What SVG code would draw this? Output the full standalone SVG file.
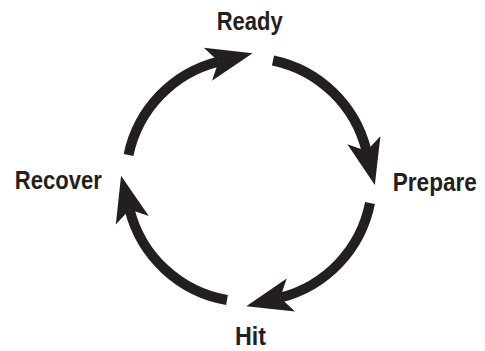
<svg xmlns="http://www.w3.org/2000/svg" width="485" height="351" viewBox="0 0 485 351">
<style>
.lbl{font-family:"Liberation Sans",Arial,sans-serif;font-weight:bold;font-size:26px;fill:#231f20;text-anchor:middle}
.arc{fill:none;stroke:#231f20;stroke-width:10;stroke-linecap:butt;marker-end:url(#ah)}
</style>
<defs>
<marker id="ah" viewBox="0 0 46 36" refX="11" refY="18" markerWidth="46" markerHeight="36" markerUnits="userSpaceOnUse" orient="auto" overflow="visible">
<path d="M46,18 L0,1 L11,18 L0,35 Z" fill="#231f20"/>
</marker>
</defs>
<rect width="485" height="351" fill="#ffffff"/>
<g id="connectors">
<path class="arc" d="M128.5,155 A122,122 0 0 1 218.6,61.6"/>
<path class="arc" d="M273,60.5 A122,122 0 0 1 366.5,150.9"/>
<path class="arc" d="M370,203 A122,122 0 0 1 280.2,297.7"/>
<path class="arc" d="M227,300 A122,122 0 0 1 129.6,209.6"/>
</g>
<g id="ready"><text class="lbl" x="249.7" y="29.5" textLength="66" lengthAdjust="spacingAndGlyphs">Ready</text></g>
<g id="prepare"><text class="lbl" x="434.8" y="190.5" textLength="84" lengthAdjust="spacingAndGlyphs">Prepare</text></g>
<g id="hit"><text class="lbl" x="250.5" y="345" textLength="31" lengthAdjust="spacingAndGlyphs">Hit</text></g>
<g id="recover"><text class="lbl" x="58.3" y="188.5" textLength="87" lengthAdjust="spacingAndGlyphs">Recover</text></g>
</svg>
